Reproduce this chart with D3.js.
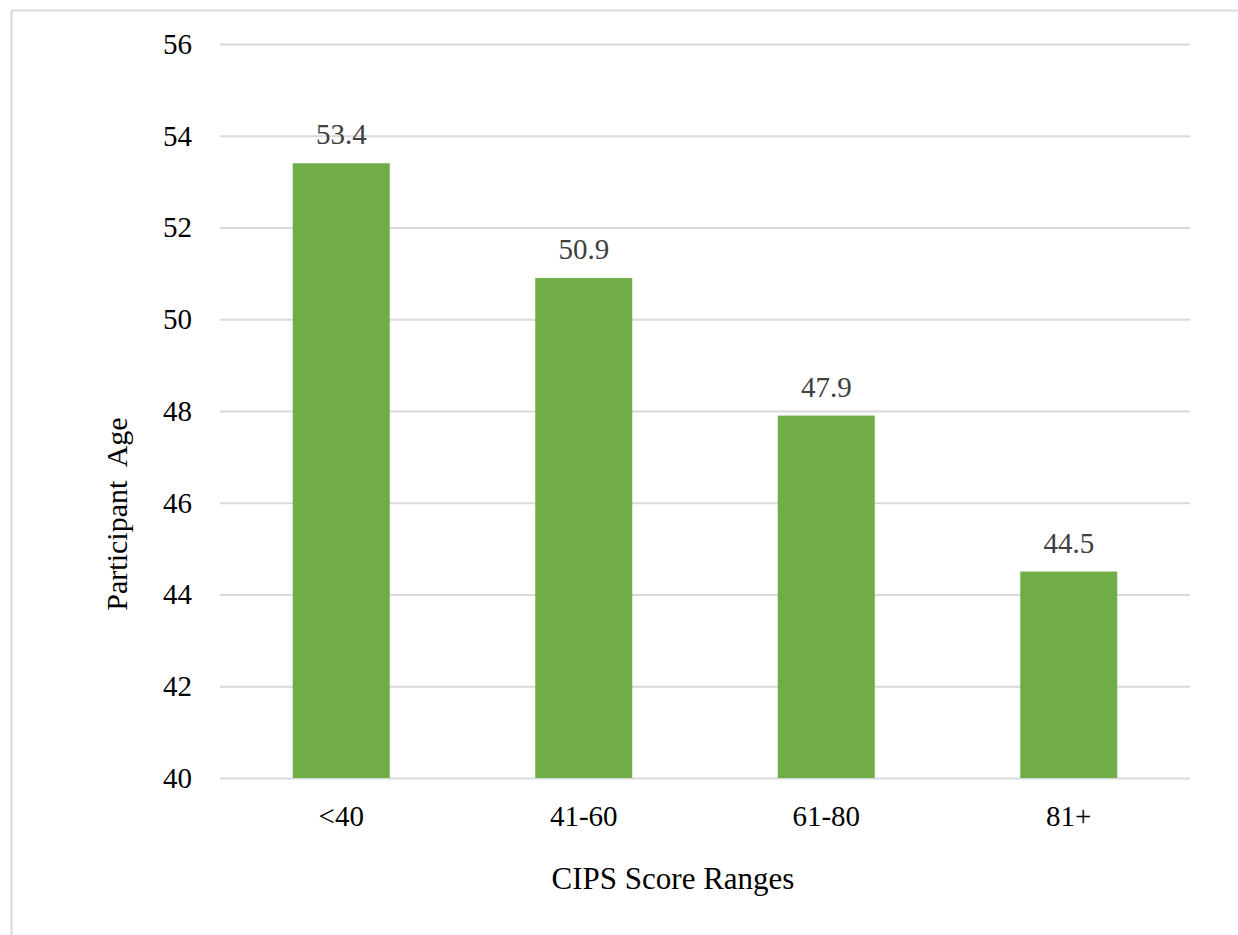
<!DOCTYPE html>
<html>
<head>
<meta charset="utf-8">
<script src="https://cdn.jsdelivr.net/npm/d3@7"></script>
<style>
  html, body { margin: 0; padding: 0; background: #fff; }
  svg { display: block; }
</style>
</head>
<body>
<svg id="chart" width="1238" height="935"></svg>
<script>
// Mean participant age by CIPS score range
const categories = ["<40", "41-60", "61-80", "81+"];
const ages = [53.4, 50.9, 47.9, 44.5];
const yTicks = [40, 42, 44, 46, 48, 50, 52, 54, 56];

const FONT = "'Liberation Serif', 'Times New Roman', 'DejaVu Serif', serif";
const FS = 29;

const svg = d3.select("#chart");
const W = 1238, H = 935;
const m = { left: 220, right: 48, top: 44, bottom: 157 };

// outer chart frame (left and top edges)
svg.append("path")
  .attr("d", `M11.5,${H} V10.5 H${W}`)
  .attr("fill", "none")
  .attr("stroke", "#d9d9d9")
  .attr("stroke-width", 2);

const x = d3.scaleBand()
  .domain(categories)
  .range([m.left, W - m.right])
  .paddingInner(0.6)
  .paddingOuter(0.3);

const y = d3.scaleLinear()
  .domain([40, 56])
  .range([H - m.bottom, m.top]);

// gridlines + y tick labels
const yAxis = svg.append("g")
  .attr("transform", `translate(${m.left},0)`)
  .call(d3.axisLeft(y).tickValues(yTicks).tickSize(-(W - m.right - m.left)).tickPadding(28).tickFormat(d3.format("d")));
yAxis.attr("font-family", FONT).attr("font-size", FS);
yAxis.select(".domain").remove();
yAxis.selectAll(".tick line").attr("stroke", "#d9d9d9").attr("stroke-width", 2);
yAxis.selectAll(".tick text").attr("fill", "#000");

// bars
svg.append("g").selectAll("rect")
  .data(categories)
  .join("rect")
  .attr("x", d => x(d))
  .attr("width", x.bandwidth())
  .attr("y", (d, i) => y(ages[i]))
  .attr("height", (d, i) => y(40) - y(ages[i]))
  .attr("fill", "#70ad47");

// value labels
svg.append("g")
  .attr("font-family", FONT)
  .attr("font-size", FS)
  .selectAll("text")
  .data(categories)
  .join("text")
  .attr("x", d => x(d) + x.bandwidth() / 2)
  .attr("y", (d, i) => y(ages[i]) - 19)
  .attr("text-anchor", "middle")
  .attr("fill", "#404040")
  .text((d, i) => ages[i].toFixed(1));

// category labels
const xAxis = svg.append("g")
  .attr("transform", `translate(0,${y(40)})`)
  .call(d3.axisBottom(x).tickSize(0).tickPadding(27));
xAxis.attr("font-family", FONT).attr("font-size", FS);
xAxis.select(".domain").remove();
xAxis.selectAll(".tick text").attr("fill", "#000");

// axis titles
svg.append("text")
  .attr("x", 673)
  .attr("y", 889)
  .attr("text-anchor", "middle")
  .attr("font-family", FONT)
  .attr("font-size", 31)
  .attr("fill", "#000")
  .text("CIPS Score Ranges");

svg.append("text")
  .attr("transform", `translate(127,514) rotate(-90)`)
  .attr("text-anchor", "middle")
  .attr("font-family", FONT)
  .attr("font-size", 30)
  .attr("fill", "#000")
  .style("white-space", "pre")
  .text("Participant  Age");
</script>
</body>
</html>
